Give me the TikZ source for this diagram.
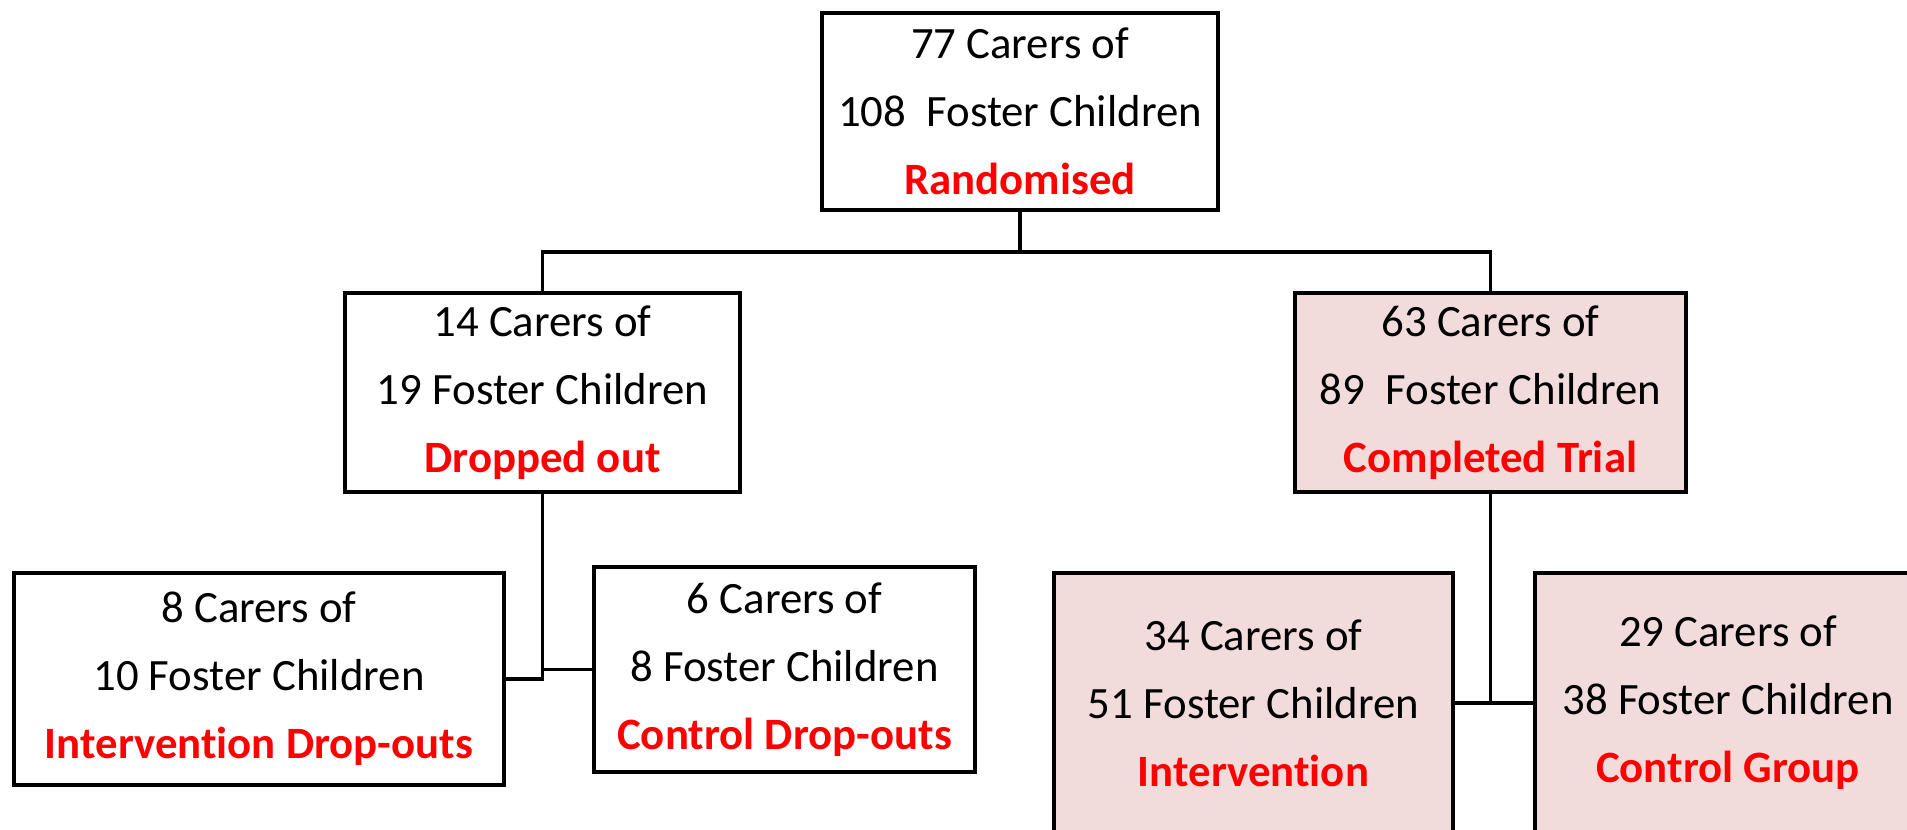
\documentclass[tikz,border=0pt]{standalone}
\usepackage{fontspec}
\setmainfont{Carlito}[Ligatures={NoCommon,NoContextual}]
\usepackage{xcolor}
\usepackage{tikz}
\usetikzlibrary{positioning,calc}

\definecolor{alertred}{HTML}{FF0000}
\definecolor{trialpink}{HTML}{F2DCDB}
\newcommand{\grouplabel}[1]{\textbf{\color{alertred}#1}}

\begin{document}
\begin{tikzpicture}[
    x=0.02cm, y=-0.02cm,
    block/.style={rectangle, draw, line width=2.6pt, fill=white, align=center, inner sep=0pt,
                  font=\fontsize{25.5}{38.7}\selectfont},
    trial/.style={block, fill=trialpink},
    line/.style={draw, line width=2pt}
]
\useasboundingbox (0,0) rectangle (1907,829);

% Randomised
\node [block, minimum width=7.92cm, minimum height=3.94cm] (rand) at (1020,111.5)
    {77 Carers of\\108\ \ Foster Children\\\grouplabel{Randomised}};

% Dropped out
\node [block, minimum width=7.9cm, minimum height=3.98cm] (drop) at (542.5,392.5)
    {14 Carers of\\19 Foster Children\\\grouplabel{Dropped out}};

% Completed trial
\node [trial, minimum width=7.82cm, minimum height=3.98cm] (done) at (1490.5,392.5)
    {63 Carers of\\89\ \ Foster Children\\\grouplabel{Completed Trial}};

% Intervention drop-outs
\node [block, minimum width=9.8cm, minimum height=4.24cm] (idrop) at (259,679)
    {8 Carers of\\10 Foster Children\\\grouplabel{Intervention Drop-outs}};

% Control drop-outs
\node [block, minimum width=7.62cm, minimum height=4.1cm] (cdrop) at (784.5,669.5)
    {6 Carers of\\8 Foster Children\\\grouplabel{Control Drop-outs}};

% Intervention
\node [trial, minimum width=7.98cm, minimum height=5.2cm] (interv) at (1253.5,703)
    {34 Carers of\\51 Foster Children\\\grouplabel{Intervention}};

% Control group
\node [trial, minimum width=7.72cm, minimum height=5.2cm] (ctrl) at (1728,703)
    {29 Carers of\\38 Foster Children\\\grouplabel{Control Group}};

% Connections
\coordinate (split) at (rand.south |- 0,252);
\path [line] (rand.south) -- (split);
\path [line] (drop.north) |- (split) -| (done.north);
\path [line] (idrop.east) -| (drop.south);
\path [line] (cdrop.west) -| (drop.south);
\path [line] (interv.east) -| (done.south);
\path [line] (ctrl.west) -| (done.south);

\end{tikzpicture}
\end{document}
